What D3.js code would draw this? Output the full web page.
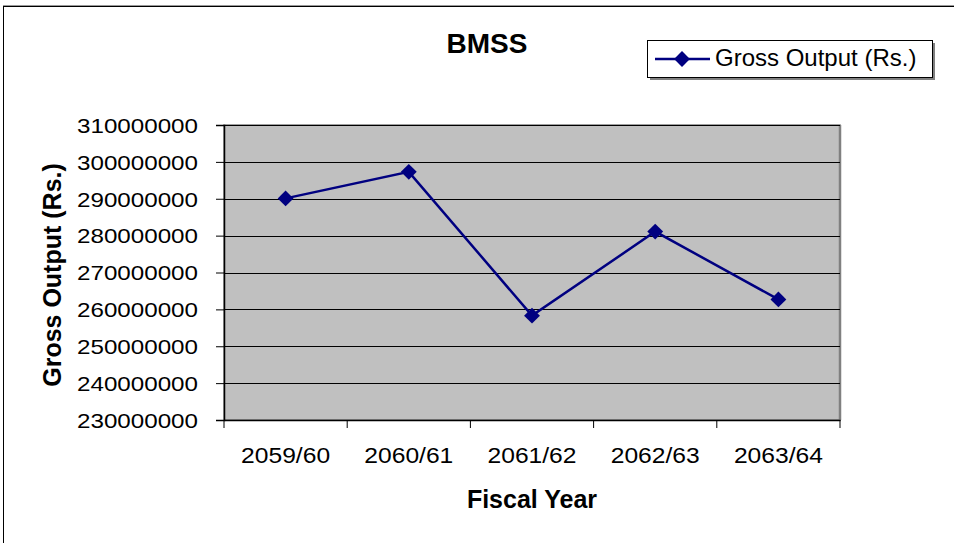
<!DOCTYPE html>
<html><head><meta charset="utf-8">
<script src="https://cdn.jsdelivr.net/npm/d3@7"></script>
<style>body{margin:0;background:#fff;font-family:"Liberation Sans",Arial,sans-serif;}</style>
</head><body>
<svg id="c" width="954" height="543" font-family="Liberation Sans, Arial, sans-serif"></svg>
<script>
const categories = ["2059/60","2060/61","2061/62","2062/63","2063/64"];
const grossOutput = [290100000, 297300000, 258300000, 281100000, 262700000];
const yTicks = [230000000,240000000,250000000,260000000,270000000,280000000,290000000,300000000,310000000];
const seriesName = "Gross Output (Rs.)";

const svg = d3.select("#c");
const L=224, R=840, T=125, B=420;
// outer frame
svg.append("line").attr("x1",3).attr("x2",954).attr("y1",5.5).attr("y2",5.5).attr("stroke","#999").attr("stroke-width",1);
svg.append("rect").attr("x",3.5).attr("y",6.5).attr("width",960).attr("height",560)
  .attr("fill","none").attr("stroke","#000").attr("stroke-width",1);

const x = d3.scaleBand().domain(categories).range([L,R]);
const y = d3.scaleLinear().domain([230000000,310000000]).range([B,T]);

svg.append("rect").attr("x",L).attr("y",T).attr("width",R-L).attr("height",B-T)
  .attr("fill","#c0c0c0").attr("stroke","#808080").attr("stroke-width",1.5);
svg.append("line").attr("x1",R).attr("x2",R).attr("y1",T).attr("y2",B).attr("stroke","#808080").attr("stroke-width",2.5);

svg.append("g").selectAll("line").data(yTicks.slice(1,-1)).join("line")
  .attr("x1",L).attr("x2",R).attr("y1",d=>Math.round(y(d))+0.5).attr("y2",d=>Math.round(y(d))+0.5)
  .attr("stroke","#000").attr("stroke-width",1);
svg.append("line").attr("x1",L).attr("x2",R).attr("y1",T+0.5).attr("y2",T+0.5).attr("stroke","#000");

function stretch(sel, w){
  sel.each(function(){ this.setAttribute("textLength", w); this.setAttribute("lengthAdjust","spacingAndGlyphs"); });
}

const yAxis = d3.axisLeft(y).tickValues(yTicks).tickSize(8).tickPadding(18).tickFormat(d3.format("d"));
const gy = svg.append("g").attr("transform",`translate(${L},0)`).call(yAxis);
gy.attr("font-family",null).attr("font-size",null);
gy.select(".domain").attr("stroke","#000").attr("stroke-width",1.5);
gy.selectAll(".tick line").attr("stroke","#000");
gy.selectAll("text").attr("font-size",21).attr("fill","#000").attr("dy","0.35em");
stretch(gy.selectAll("text"), 121);

const xAxis = d3.axisBottom(x).tickSize(0).tickPadding(0);
const gx = svg.append("g").attr("transform",`translate(0,${B})`).call(xAxis);
gx.attr("font-family",null).attr("font-size",null);
gx.select(".domain").attr("stroke","#000").attr("stroke-width",1.5);
gx.selectAll("text").attr("font-size",22).attr("fill","#000").attr("y",43).attr("dy",null);
stretch(gx.selectAll("text"), 89);
// category boundary ticks
const bounds = categories.map(c=>x(c)).concat([R]);
svg.append("g").selectAll("line").data(bounds).join("line")
  .attr("x1",d=>d).attr("x2",d=>d).attr("y1",B).attr("y2",B+8).attr("stroke","#000").attr("stroke-width",1);

const cx = c => x(c)+x.bandwidth()/2;
const line = d3.line().x((d,i)=>cx(categories[i])).y(d=>y(d));
svg.append("path").datum(grossOutput).attr("d",line).attr("fill","none").attr("stroke","#000080").attr("stroke-width",2.5);
const diamond = d3.symbol().type(d3.symbolDiamond2).size(160);
svg.append("g").selectAll("path").data(grossOutput).join("path")
  .attr("transform",(d,i)=>`translate(${cx(categories[i])},${y(d)})`).attr("d",diamond).attr("fill","#000080");

svg.append("text").attr("x",487).attr("y",53).attr("text-anchor","middle").attr("font-size",28).attr("font-weight","bold").text("BMSS");
svg.append("text").attr("x",532).attr("y",508).attr("text-anchor","middle").attr("font-size",25).attr("font-weight","bold").text("Fiscal Year");
svg.append("text").attr("transform","translate(61,275) rotate(-90)").attr("text-anchor","middle").attr("font-size",25).attr("font-weight","bold").text(seriesName);

// legend
svg.append("rect").attr("x",650).attr("y",43).attr("width",285).attr("height",37).attr("fill","#808080");
svg.append("rect").attr("x",647.5).attr("y",40.5).attr("width",285).attr("height",37).attr("fill","#fff").attr("stroke","#000").attr("stroke-width",1);
svg.append("line").attr("x1",655).attr("x2",710).attr("y1",59).attr("y2",59).attr("stroke","#000080").attr("stroke-width",2.5);
svg.append("path").attr("transform","translate(682,59)").attr("d",diamond).attr("fill","#000080");
svg.append("text").attr("x",715).attr("y",66).attr("font-size",24).text(seriesName);
</script>
</body></html>
